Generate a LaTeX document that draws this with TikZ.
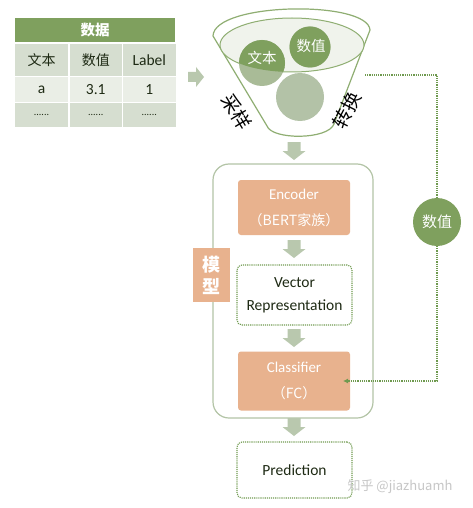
\documentclass[tikz,border=0pt]{standalone}
\usepackage{fontspec}
\setmainfont{Carlito}
\newfontfamily\cjk{Noto Sans CJK SC}
\usetikzlibrary{arrows.meta}
\definecolor{dg}{HTML}{7FA05E}
\definecolor{cellA}{HTML}{D6DED0}
\definecolor{cellB}{HTML}{EAEEE6}
\definecolor{salmon}{HTML}{E8B28E}
\definecolor{arr}{HTML}{B9C8AE}
\definecolor{lightc}{HTML}{B3C2A7}
\definecolor{midc}{HTML}{A9BB97}
\definecolor{framec}{HTML}{B3C4A6}
\definecolor{func}{HTML}{8FAE72}
\definecolor{dotc}{HTML}{6F9A4F}
\definecolor{txt}{HTML}{1E2A14}
\definecolor{ellc}{HTML}{F0F3EC}
\tikzset{
  cell/.style={minimum width=52.5, text=txt},
  salbox/.style={fill=salmon, rounded corners=3, minimum width=112, text=white, align=center, font=\fontsize{15}{26}\selectfont},
  dotbox/.style={draw=dotc, line width=1.1pt, dash pattern=on 1.1pt off 1pt, rounded corners=5, minimum width=115, text=txt, align=center, font=\fontsize{15.5}{23}\selectfont},
  conn/.style={draw=dotc, line width=1.2pt, dash pattern=on 1.2pt off 1pt},
  downarrow/.pic={\fill[arr] (-6.5,0) -- (6.5,0) -- (6.5,9) -- (11.5,9) -- (0,18) -- (-11.5,9) -- (-6.5,9) -- cycle;},
  rightarrow/.pic={\fill[arr] (0,-5) -- (8,-5) -- (8,-10) -- (16,0) -- (8,10) -- (8,5) -- (0,5) -- cycle;}
}
\begin{document}
\begin{tikzpicture}[x=1pt,y=-1pt, every node/.style={inner sep=0pt, outer sep=0pt}]
\useasboundingbox (0,0) rectangle (472,508);
\fill[white] (0,0) rectangle (472,508);

% ---------- table ----------
\node[fill=dg, minimum width=160, minimum height=24, text=white, font=\cjk\bfseries\fontsize{14.5}{16}\selectfont] (hd) at (95,30) {数据};
\node[cell, fill=cellA, minimum height=32, font=\cjk\fontsize{14}{16}\selectfont] (t21) at (41.5,60) {文本};
\node[cell, fill=cellA, minimum height=32, font=\cjk\fontsize{14}{16}\selectfont] (t22) at (95.75,60) {数值};
\node[cell, fill=cellA, minimum height=32, font=\fontsize{15.5}{17}\selectfont] (t23) at (149.25,60) {Label};
\node[cell, fill=cellB, minimum height=24.5, font=\fontsize{15.5}{17}\selectfont] (t31) at (41.5,89.75) {a};
\node[cell, fill=cellB, minimum height=24.5, font=\fontsize{15.5}{17}\selectfont] (t32) at (95.75,89.75) {3.1};
\node[cell, fill=cellB, minimum height=24.5, font=\fontsize{15.5}{17}\selectfont] (t33) at (149.25,89.75) {1};
\node[cell, fill=cellA, minimum height=23.5, font=\fontsize{10}{10}\selectfont] (t41) at (41.5,115.25) {......};
\node[cell, fill=cellA, minimum height=23.5, font=\fontsize{10}{10}\selectfont] (t42) at (95.75,115.25) {......};
\node[cell, fill=cellA, minimum height=23.5, font=\fontsize{10}{10}\selectfont] (t43) at (149.25,115.25) {......};

\pic at (188,77) {rightarrow};

% ---------- funnel ----------
\draw[func, line width=1.2pt, fill=white] (213,36) .. controls (214,2) and (368,0) .. (370,30) -- (334,124) .. controls (328,140) and (272,140) .. (267,126) -- cycle;
\draw[func, line width=1pt, fill=ellc] (292,45) ellipse [x radius=72pt, y radius=27pt];
\fill[midc] (262,63) circle [radius=23pt];
\fill[midc!70!dg] (310,47) circle [radius=20.5pt];
\begin{scope}
  \clip (292,45) ellipse [x radius=72pt, y radius=27pt];
  \fill[dg] (262,63) circle [radius=23pt];
  \fill[dg] (310,47) circle [radius=20.5pt];
\end{scope}
\fill[lightc] (300,97) circle [radius=24pt];
\node[text=white, font=\cjk\fontsize{14.5}{16}\selectfont] (cwen) at (262,58) {文本};
\node[text=white, font=\cjk\fontsize{14.5}{16}\selectfont] (cnum) at (311,46) {数值};
\node[circle, minimum size=48] (cthree) at (300,97) {};
\node[rotate=-59, font=\cjk\fontsize{19}{20}\selectfont] (caiyang) at (237,112) {采样};
\node[rotate=63, font=\cjk\fontsize{19}{20}\selectfont] (zhuanhuan) at (347,110) {转换};

\pic at (294,142) {downarrow};

% ---------- model ----------
\node[draw=framec, line width=1.2pt, fill=white, rounded corners=16, minimum width=160, minimum height=254] (model) at (293,291) {};
\node[fill=salmon, minimum width=37, minimum height=54, text=white, align=center, font=\cjk\bfseries\fontsize{18}{22}\selectfont] (mlabel) at (211.5,275) {模\\型};
\node[salbox, minimum height=55] (enc) at (294,207.5) {Encoder\\{\cjk\fontsize{14}{26}\selectfont （BERT家族）}};
\pic at (294,240) {downarrow};
\node[dotbox, minimum height=60] (vec) at (294.5,295) {Vector\\Representation};
\pic at (294,329) {downarrow};
\node[salbox, minimum height=59] (cls) at (294,381) {Classifier\\{\cjk\fontsize{14}{26}\selectfont （FC）}};
\pic at (294,418) {downarrow};
\node[dotbox, minimum height=56] (pred) at (294.5,470) {Prediction};

% ---------- right connector ----------
\coordinate (fr) at (365,75);
\node[circle, fill=dg, minimum size=48, text=white, font=\cjk\fontsize{15}{16}\selectfont] (num) at (437,222) {数值};
\path[conn] (fr) -| (num.north);
\path[conn, -{Latex[length=5pt,width=5pt]}, shorten >=-7pt] (num.south) |- (cls.east);

\node[text=black!22, font=\cjk\fontsize{13}{14}\selectfont] (wm) at (400,487) {知乎 @jiazhuamh};
\end{tikzpicture}
\end{document}
